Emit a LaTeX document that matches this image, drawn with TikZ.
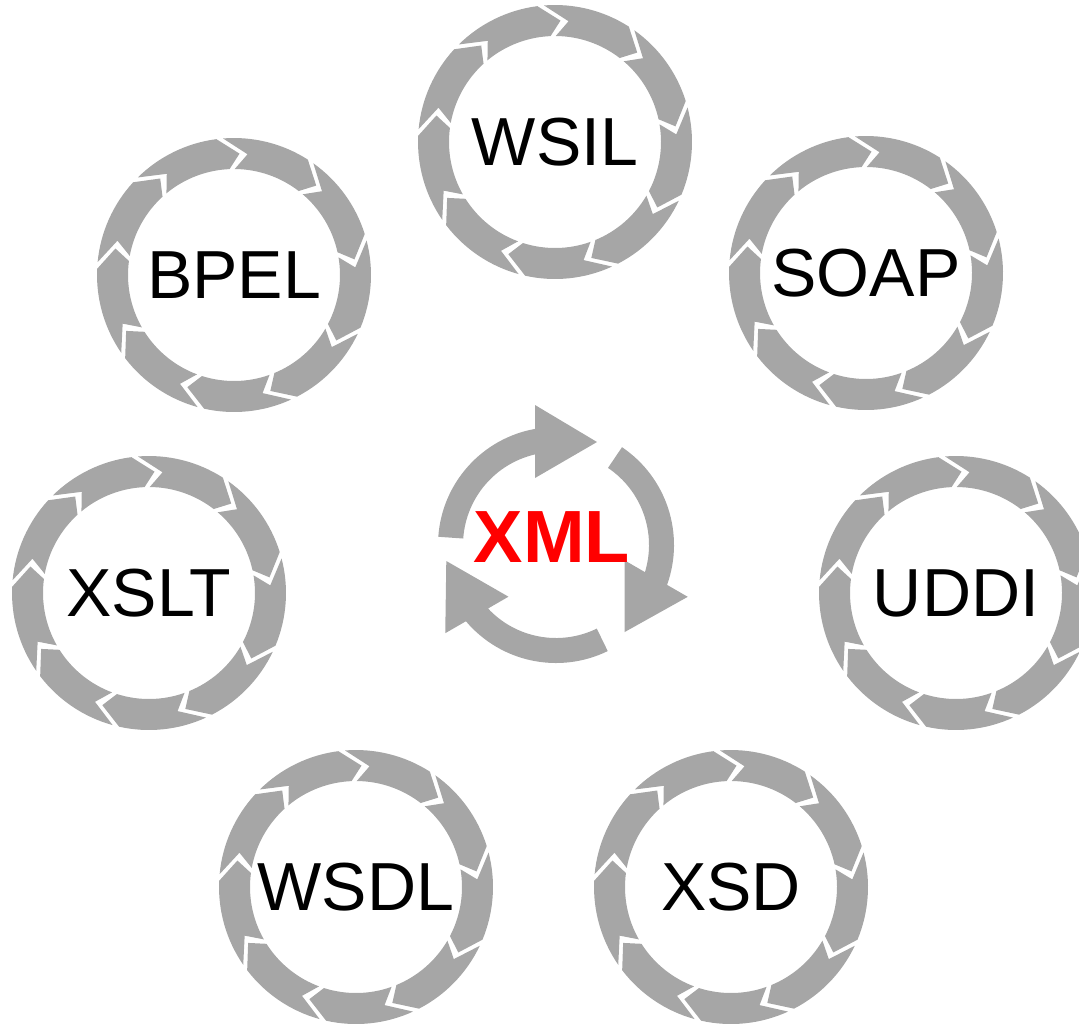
\documentclass[tikz,border=0pt]{standalone}
\usepackage{fontspec}
\setmainfont{Liberation Sans}
\usepackage{tikz}

\begin{document}
\begin{tikzpicture}[x=0.5pt,y=0.5pt]
        \definecolor{ringgray}{RGB}{166,166,166}
        \tikzset{seg/.style={fill=ringgray},
            lbl/.style={font=\fontsize{34}{40}\selectfont, inner sep=0pt},
            hub/.style={font=\fontsize{37}{44}\selectfont\bfseries, text=red, inner sep=0pt}}

        \useasboundingbox (0,0) rectangle (1079,-1023);

        % rings of chevrons, one per standard
        \foreach \cx/\cy/\lbl in {555/142/WSIL, 234/275/BPEL, 866/273/SOAP,
                149/593/XSLT, 956/593/UDDI, 356/887/WSDL, 731/887/XSD} {
            \begin{scope}[shift={(\cx,-\cy)}]
                \foreach \k in {0,...,8} {
                    \pgfmathsetmacro\ba{96-40*\k}
                    \pgfmathsetmacro\bb{\ba-40}
                    \fill[seg] (\ba-1.4:137) arc[start angle=\ba-1.4, end angle=\bb+1.4, radius=137]
                        -- (\bb-8.6:121.5) -- (\bb-3.6:106)
                        arc[start angle=\bb-3.6, end angle=\ba-6.4, radius=106]
                        -- (\ba-12.4:121.5) -- cycle;
                }
                \node[lbl] (\lbl) at (0,0) {\lbl};
            \end{scope}
        }

        % three arrows in the middle
        \begin{scope}[shift={(556,-545)}]
            \foreach \r in {0,120,240}
                \fill[seg,rotate=-\r] (176:118) arc[start angle=176, end angle=100.25, radius=118]
                    -- (-21,140) -- (41,103) -- (-21,67) -- (103.05:93)
                    arc[start angle=103.05, end angle=176, radius=93] -- cycle;
        \end{scope}

        \node[hub] (xml) at (552,-537) {XML};

    \end{tikzpicture}
\end{document}
